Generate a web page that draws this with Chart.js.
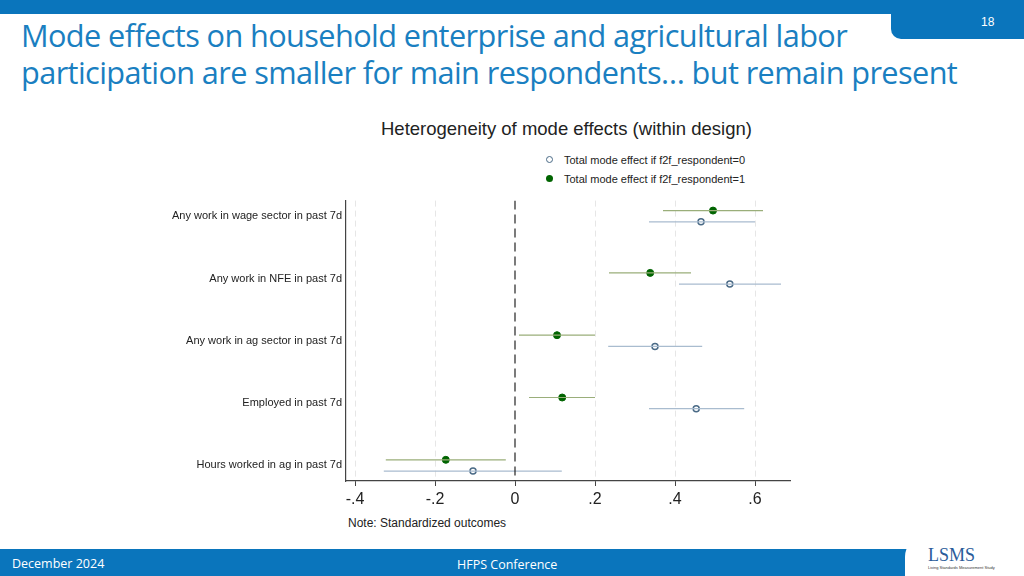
<!DOCTYPE html>
<html>
<head>
<meta charset="utf-8">
<script src="https://cdn.jsdelivr.net/npm/chart.js@4"></script>
<style>
  body { margin:0; width:1024px; height:576px; overflow:hidden; background:#fff; font-family:"Liberation Sans", Arial, sans-serif; position:relative; }
  #topbar { position:absolute; left:0; top:0; width:1024px; height:14px; background:#0a75bc; }
  #tab { position:absolute; left:891px; top:0; width:133px; height:39px; background:#0a75bc; border-bottom-left-radius:10px; color:#fff; font-size:12px; }
  #tab span { position:absolute; left:90px; top:15px; }
  #title { position:absolute; left:21px; top:17px; color:#1a7fc1; font-family:"Open Sans", sans-serif; font-size:30.7px; line-height:37px; letter-spacing:-0.6px; }
  #ctitle { position:absolute; left:381px; top:118px; font-size:18.5px; color:#222; }
  .leg { position:absolute; left:546px; font-size:11px; color:#222; }
  .leg i { display:inline-block; width:6px; height:6px; border-radius:50%; margin-right:11px; vertical-align:1px; }
  #note { position:absolute; left:348px; top:516px; font-size:12px; color:#222; }
  #foot { position:absolute; left:0; top:549px; width:1024px; height:27px; background:#0a75bc; color:#fff; font-family:"Open Sans", sans-serif; font-size:12.5px; }
  #logo { position:absolute; left:905px; top:535px; width:119px; height:41px; background:#fff; border-top-left-radius:22px; }
  #logo b { position:absolute; left:23px; top:10px; font-family:"Liberation Serif", serif; font-size:18px; color:#2a5c9a; font-weight:normal; }
  #logo small { position:absolute; left:23px; top:30px; font-size:4px; color:#333; }
  canvas { position:absolute; left:160px; top:190px; }
</style>
</head>
<body>
<div id="topbar"></div>
<div id="tab"><span>18</span></div>
<div id="title">Mode effects on household enterprise and agricultural labor<br>participation are smaller for main respondents… but remain present</div>
<div id="ctitle">Heterogeneity of mode effects (within design)</div>
<div class="leg" style="top:154px"><i style="border:1px solid #4a6a86;width:5px;height:5px"></i>Total mode effect if f2f_respondent=0</div>
<div class="leg" style="top:173px"><i style="background:#006400;width:7px;height:7px"></i>Total mode effect if f2f_respondent=1</div>
<div id="note">Note: Standardized outcomes</div>
<div id="foot"><span style="position:absolute;left:12px;top:6px">December 2024</span><span style="position:absolute;left:457px;top:7px">HFPS Conference</span></div>
<div id="logo"><b>LSMS</b><small>Living Standards Measurement Study</small></div>
<canvas id="c" width="640" height="330"></canvas>
<script>
const categories = ['Any work in wage sector in past 7d', 'Any work in NFE in past 7d', 'Any work in ag sector in past 7d', 'Employed in past 7d', 'Hours worked in ag in past 7d'];
const xTicks = [-0.4, -0.2, 0, 0.2, 0.4, 0.6];
// f2f_respondent=1 (green)
const est1 = [0.495, 0.338, 0.105, 0.118, -0.173];
const lo1 = [0.37, 0.235, 0.01, 0.035, -0.323];
const hi1 = [0.62, 0.44, 0.20, 0.20, -0.023];
// f2f_respondent=0 (hollow)
const est0 = [0.465, 0.537, 0.35, 0.453, -0.105];
const lo0 = [0.335, 0.41, 0.233, 0.335, -0.328];
const hi0 = [0.60, 0.665, 0.468, 0.573, 0.117];

const off = 0.09;
function ciLine(lo, hi, d) {
  const pts = [];
  lo.forEach((l, i) => { pts.push({x: l, y: i + d}, {x: hi[i], y: i + d}, {x: null, y: null}); });
  return pts;
}

new Chart(document.getElementById('c'), {
  type: 'scatter',
  data: {
    datasets: [
      { type: 'line', data: [{x: 0, y: -0.25}, {x: 0, y: 4.25}], borderColor: '#222', borderWidth: 1.2, borderDash: [9, 5], pointRadius: 0 },
      { type: 'line', data: ciLine(lo1, hi1, -off), borderColor: '#9aae7a', borderWidth: 1.2, pointRadius: 0, spanGaps: false },
      { type: 'line', data: ciLine(lo0, hi0, off), borderColor: '#a9bccf', borderWidth: 1.2, pointRadius: 0, spanGaps: false },
      { data: est1.map((v, i) => ({x: v, y: i - off})), backgroundColor: '#006400', borderColor: '#006400', pointRadius: 3.5 },
      { data: est0.map((v, i) => ({x: v, y: i + off})), backgroundColor: '#fff', borderColor: '#4a6a86', borderWidth: 1.5, pointRadius: 3 }
    ]
  },
  options: {
    responsive: false, animation: false,
    layout: { padding: { top: 5, right: 10, left: 0, bottom: 0 } },
    plugins: { legend: { display: false }, tooltip: { enabled: false } },
    scales: {
      x: {
        min: -0.4225, max: 0.6875,
        afterBuildTicks: s => { s.ticks = xTicks.map(v => ({value: v})); },
        afterFit: s => { s.height = 39; },
        ticks: { color: '#222', font: { size: 16, family: 'Liberation Sans' }, padding: 4,
          callback: v => v === 0 ? '0' : (v < 0 ? '-' : '') + String(Math.abs(+v.toFixed(1))).replace(/^0/, '') },
        grid: { color: c => c.tick && c.tick.value === 0 ? 'rgba(0,0,0,0)' : '#e6e6e6', drawTicks: true, tickLength: 5, tickColor: '#444' },
        border: { color: '#444', width: 1.2, dash: [6, 4] }
      },
      y: {
        min: -0.25, max: 4.25, reverse: true,
        afterBuildTicks: s => { s.ticks = categories.map((c, i) => ({value: i})); },
        afterFit: s => { s.width = 186; },
        ticks: { color: '#222', font: { size: 11, family: 'Liberation Sans' }, padding: 4, callback: v => categories[v] },
        grid: { display: false, drawTicks: false },
        border: { color: '#444', width: 1.2 }
      }
    }
  }
});
</script>
</body>
</html>
